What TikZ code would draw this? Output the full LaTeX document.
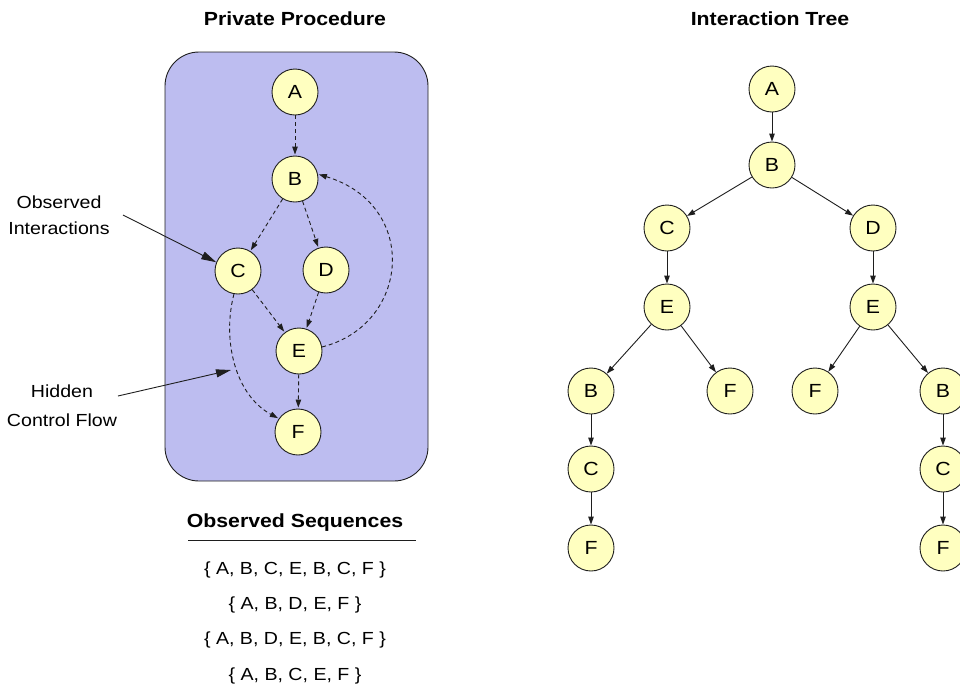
\documentclass[tikz,border=0pt]{standalone}
\usepackage{fontspec}
\setmainfont{Liberation Sans}[FakeStretch=1.12]
\usetikzlibrary{arrows.meta}
\definecolor{procfill}{RGB}{189,189,240}
\definecolor{statefill}{RGB}{255,255,192}
\definecolor{edgecol}{RGB}{30,30,30}
\tikzset{
  state/.style={circle, draw=edgecol, line width=0.9pt, fill=statefill,
    minimum size=46pt, inner sep=0pt, font=\fontsize{19}{19}\selectfont},
  flow/.style={draw=edgecol, line width=0.9pt, dash pattern=on 4pt off 3pt,
    -{Triangle[length=8pt,width=5.5pt]}, shorten >=1pt},
  treeedge/.style={draw=edgecol, line width=0.9pt,
    -{Triangle[length=8pt,width=5.5pt]}},
  callout/.style={draw=edgecol, line width=0.9pt,
    -{Triangle[length=15pt,width=8pt]}},
  label/.style={font=\fontsize{17.5}{17.5}\selectfont, align=center},
  heading/.style={font=\fontsize{19}{19}\selectfont\bfseries},
}
\begin{document}
\begin{tikzpicture}[x=1pt,y=-1pt]
\useasboundingbox (0,0) rectangle (960,689);

% ---- private procedure ----
\node[heading] (t1) at (295,19) {Private Procedure};
\draw[fill=procfill, draw=edgecol, line width=0.9pt, rounded corners=34pt]
  (165,52) rectangle (428,481);

\node[state] (pA) at (295,92) {A};
\node[state] (pB) at (295,179) {B};
\node[state] (pC) at (238,271) {C};
\node[state] (pD) at (326,270) {D};
\node[state] (pE) at (299,351) {E};
\node[state] (pF) at (298,432) {F};

\draw[flow] (pA) -- (pB);
\draw[flow] (pB) -- (pC);
\draw[flow] (pB) -- (pD);
\draw[flow] (pC) -- (pE);
\draw[flow] (pD) -- (pE);
\draw[flow] (pE) -- (pF);
\draw[flow] (pE.10) .. controls (410,325) and (420,205) .. (pB.12);
\draw[flow] (pC.-100) .. controls (222,340) and (235,395) .. (pF.145);

% ---- callouts ----
\node[label] (obs) at (59,215) {Observed\\[8pt]Interactions};
\node[label] (hid) at (62,405.5) {Hidden\\[11pt]Control Flow};
\coordinate (hidtip) at (231,370);
\draw[callout] (123,215) -- (pC.158);
\draw[callout] (118,396) -- (hidtip);

% ---- observed sequences ----
\node[heading] (t2) at (295,523) {Observed Sequences};
\coordinate (ruleL) at (188,540);
\coordinate (ruleR) at (416,540);
\draw[edgecol, line width=0.9pt] (ruleL) -- (ruleR);
\node[label] (s1) at (295,570) {\{ A, B, C, E, B, C, F \}};
\node[label] (s2) at (295,605) {\{ A, B, D, E, F \}};
\node[label] (s3) at (295,640) {\{ A, B, D, E, B, C, F \}};
\node[label] (s4) at (295,676) {\{ A, B, C, E, F \}};

% ---- interaction tree ----
\node[heading] (t3) at (770,19) {Interaction Tree};
\node[state] (tA)  at (772,89) {A};
\node[state] (tB)  at (772,165) {B};
\node[state] (tC)  at (667,228) {C};
\node[state] (tD)  at (873,228) {D};
\node[state] (tE1) at (667,307) {E};
\node[state] (tE2) at (873,307) {E};
\node[state] (tB1) at (591,391) {B};
\node[state] (tF1) at (730,391) {F};
\node[state] (tF2) at (815,391) {F};
\node[state] (tB2) at (943,391) {B};
\node[state] (tC1) at (591,469) {C};
\node[state] (tC2) at (943,469) {C};
\node[state] (tG1) at (591,548) {F};
\node[state] (tG2) at (943,548) {F};

\draw[treeedge] (tA) -- (tB);
\draw[treeedge] (tB) -- (tC);
\draw[treeedge] (tB) -- (tD);
\draw[treeedge] (tC) -- (tE1);
\draw[treeedge] (tD) -- (tE2);
\draw[treeedge] (tE1) -- (tB1);
\draw[treeedge] (tE1) -- (tF1);
\draw[treeedge] (tE2) -- (tF2);
\draw[treeedge] (tE2) -- (tB2);
\draw[treeedge] (tB1) -- (tC1);
\draw[treeedge] (tC1) -- (tG1);
\draw[treeedge] (tB2) -- (tC2);
\draw[treeedge] (tC2) -- (tG2);
\end{tikzpicture}
\end{document}
